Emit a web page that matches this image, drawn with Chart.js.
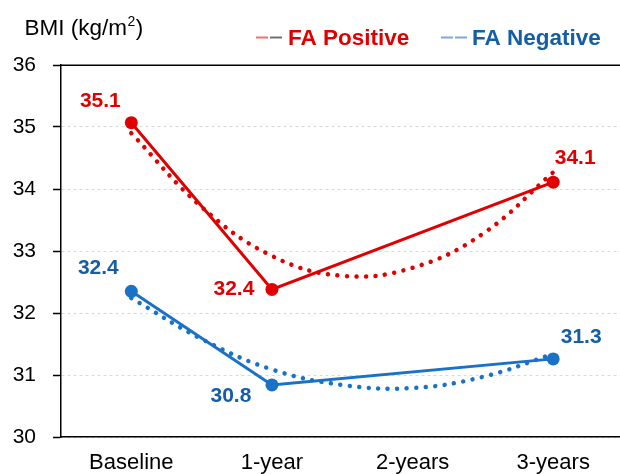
<!DOCTYPE html>
<html><head><meta charset="utf-8">
<script src="https://cdn.jsdelivr.net/npm/chart.js@4"></script>
<style>html,body{margin:0;padding:0;background:#fff}#wrap{width:620px;height:474px}</style>
</head><body><div id="wrap"><canvas id="c" width="620" height="474"></canvas></div>
<script>
const categories = ['Baseline', '1-year', '2-years', '3-years'];
const yTicks = [30, 31, 32, 33, 34, 35, 36];
const faPositive = [35.07, 32.38, null, 34.11];
const faNegative = [32.35, 30.84, null, 31.26];
const faPositiveLabels = ['35.1', '32.4', null, '34.1'];
const faNegativeLabels = ['32.4', '30.8', null, '31.3'];
const trendX = [0, 0.5, 1, 1.5, 2, 2.5, 3];
const faPositiveTrend = [34.90, 33.71, 32.92, 32.60, 32.73, 33.28, 34.27];
const faNegativeTrend = [32.24, 31.58, 31.09, 30.84, 30.79, 30.97, 31.34];
const seriesNames = ['FA Positive', 'FA Negative'];

const RED = '#E00000';
const BLUE_LINE = '#1A72C6';
const BLUE_TEXT = '#135EA6';
const FONT = '"Liberation Sans", Arial, Helvetica, sans-serif';

const toPts = arr => arr.map((v, i) => ({x: i, y: v})).filter(p => p.y !== null);
const toTrend = arr => arr.map((v, i) => ({x: trendX[i], y: v}));

const labelOffsets = [
  [[-31, -21], [-38, 0], null, [22, -24]],
  [[-33, -23], [-41, 11], null, [28, -22]]
];

const frame = {
  id: 'frame',
  beforeDatasetsDraw(chart) {
    const ctx = chart.ctx, a = chart.chartArea, ys = chart.scales.y;
    const yTop = Math.round(ys.getPixelForValue(ys.max)) + 0.25;
    ctx.save();
    ctx.strokeStyle = '#000';
    ctx.lineWidth = 1.5;
    ctx.beginPath();
    ctx.moveTo(a.left, yTop);
    ctx.lineTo(a.right, yTop);
    ctx.stroke();
    ctx.restore();
  }
};

const overlay = {
  id: 'overlay',
  afterDatasetsDraw(chart) {
    const ctx = chart.ctx;
    const xs = chart.scales.x, ys = chart.scales.y;
    ctx.save();
    ctx.font = 'bold 21px ' + FONT;
    ctx.textAlign = 'center';
    ctx.textBaseline = 'middle';
    [[faPositive, faPositiveLabels, RED], [faNegative, faNegativeLabels, BLUE_TEXT]].forEach((s, si) => {
      ctx.fillStyle = s[2];
      s[0].forEach((v, i) => {
        if (v === null) return;
        const off = labelOffsets[si][i];
        ctx.fillText(s[1][i], xs.getPixelForValue(i) + off[0], ys.getPixelForValue(v) + off[1]);
      });
    });
    // axis title
    ctx.textAlign = 'left';
    ctx.textBaseline = 'alphabetic';
    ctx.fillStyle = '#000';
    let x = 24.5;
    ctx.font = '22.5px ' + FONT;
    ctx.fillText('BMI (kg/m', x, 35);
    x += ctx.measureText('BMI (kg/m').width;
    ctx.font = '14px ' + FONT;
    ctx.fillText('2', x + 0.5, 26);
    x += ctx.measureText('2').width + 1;
    ctx.font = '22.5px ' + FONT;
    ctx.fillText(')', x, 35);
    // legend
    const legendItems = [
      {text: seriesNames[0], color: RED, dash: ['#F07070', '#707070'], mx: 256, tx: 288},
      {text: seriesNames[1], color: BLUE_TEXT, dash: ['#7FA7D5', '#7FA7D5'], mx: 441, tx: 472}
    ];
    legendItems.forEach(it => {
      ctx.lineWidth = 2;
      ctx.strokeStyle = it.dash[0];
      ctx.beginPath(); ctx.moveTo(it.mx, 37.5); ctx.lineTo(it.mx + 12, 37.5); ctx.stroke();
      ctx.strokeStyle = it.dash[1];
      ctx.beginPath(); ctx.moveTo(it.mx + 14, 37.5); ctx.lineTo(it.mx + 26, 37.5); ctx.stroke();
      ctx.fillStyle = it.color;
      ctx.font = 'bold 22.5px ' + FONT;
      ctx.fillText(it.text, it.tx, 45);
    });
    ctx.restore();
  }
};

new Chart(document.getElementById('c'), {
  type: 'line',
  data: {
    datasets: [
      {label: seriesNames[0], data: toPts(faPositive), borderColor: RED, backgroundColor: RED,
       borderWidth: 3, pointRadius: 6.5, pointBorderWidth: 0, pointBackgroundColor: RED, tension: 0},
      {label: seriesNames[1], data: toPts(faNegative), borderColor: BLUE_LINE, backgroundColor: BLUE_LINE,
       borderWidth: 3, pointRadius: 6.5, pointBorderWidth: 0, pointBackgroundColor: BLUE_LINE, tension: 0},
      {label: 'FA Positive trend', data: toTrend(faPositiveTrend), borderColor: RED, borderWidth: 4.5,
       borderDash: [0.01, 9.5], borderCapStyle: 'round', pointRadius: 0, tension: 0.4, fill: false},
      {label: 'FA Negative trend', data: toTrend(faNegativeTrend), borderColor: BLUE_LINE, borderWidth: 4.5,
       borderDash: [0.01, 9.5], borderCapStyle: 'round', pointRadius: 0, tension: 0.4, fill: false}
    ]
  },
  options: {
    responsive: false,
    animation: false,
    devicePixelRatio: 1,
    layout: {autoPadding: false, padding: {top: 65, right: 0, left: 0, bottom: 0}},
    plugins: {legend: {display: false}, tooltip: {enabled: false}},
    scales: {
      x: {
        type: 'linear', min: -0.5, max: 3.475,
        afterBuildTicks: s => { s.ticks = categories.map((c, i) => ({value: i})); },
        afterFit: s => { s.height = 37; },
        grid: {display: false, drawTicks: false},
        border: {display: true, color: '#000', width: 1.5},
        ticks: {callback: v => categories[v], color: '#000', font: {size: 22, family: FONT}, padding: 13, maxRotation: 0, autoSkip: false}
      },
      y: {
        min: 30, max: 36,
        afterBuildTicks: s => { s.ticks = yTicks.map(v => ({value: v})); },
        afterFit: s => { s.width = 61; },
        grid: {color: '#D9D9D9', lineWidth: 1, tickLength: 8, tickColor: '#000', tickWidth: 1.5, tickBorderDash: []},
        border: {display: true, color: '#000', width: 1.5, dash: [3, 3]},
        ticks: {color: '#000', font: {size: 21, family: FONT}, padding: 17}
      }
    }
  },
  plugins: [frame, overlay]
});
</script>
</body></html>
